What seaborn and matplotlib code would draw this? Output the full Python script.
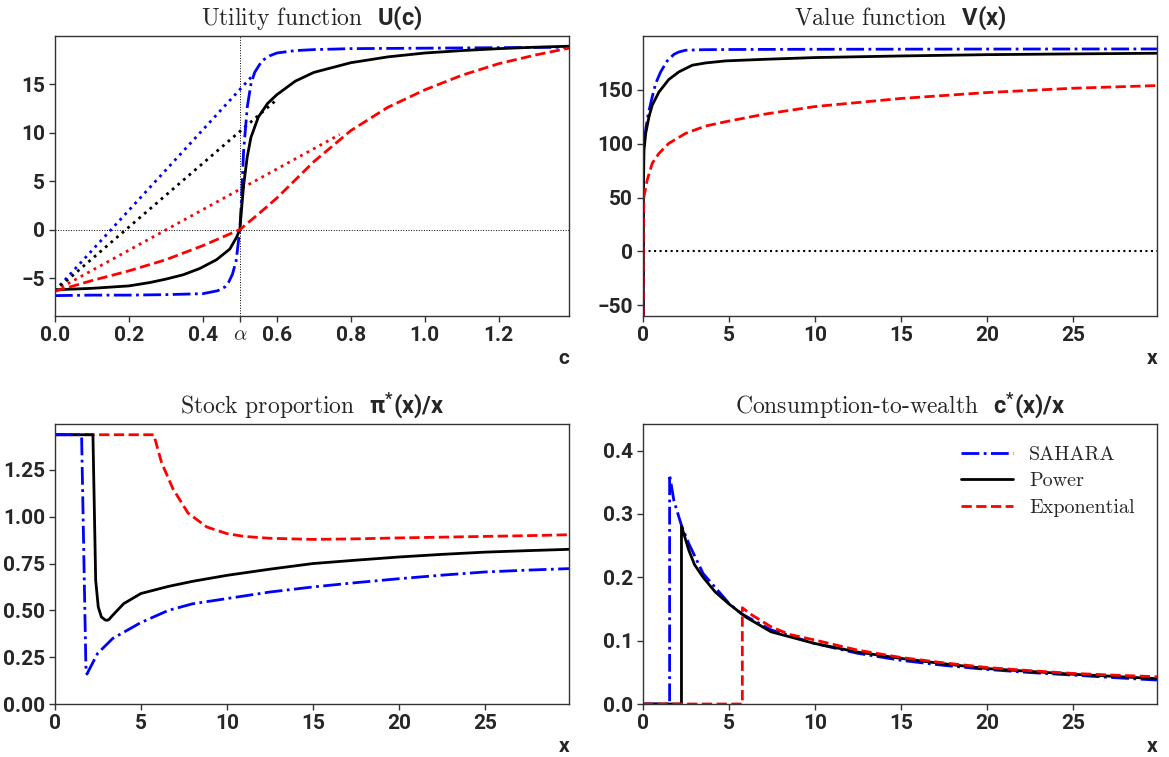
import matplotlib
matplotlib.use('Agg')
import numpy as np
import pandas as pd
import matplotlib.pyplot as plt
import seaborn as sns

# --- values ---

# Utility function U(c)
c_sahara = [0, 0.1, 0.2, 0.3, 0.4, 0.44, 0.46, 0.47, 0.48, 0.49, 0.5, 0.505, 0.51,
            0.52, 0.53, 0.54, 0.56, 0.58, 0.6, 0.65, 0.7, 0.8, 1.0, 1.2, 1.39]
u_sahara = [-6.8, -6.75, -6.75, -6.7, -6.6, -6.3, -5.9, -5.4, -4.6, -3.2, 0.0, 3.5, 8.0,
            12.6, 15.0, 16.2, 17.4, 17.9, 18.2, 18.45, 18.55, 18.65, 18.7, 18.75, 18.8]
c_power = [0, 0.1, 0.2, 0.257, 0.3, 0.347, 0.392, 0.437, 0.473, 0.491, 0.5, 0.51, 0.52,
           0.53, 0.55, 0.575, 0.6, 0.65, 0.7, 0.8, 0.9, 1.0, 1.1, 1.2, 1.3, 1.39]
u_power = [-6.2, -6.05, -5.8, -5.45, -5.1, -4.65, -4.0, -3.1, -2.0, -0.8, 0.0, 4.5, 7.5,
           9.5, 11.6, 13.0, 13.9, 15.3, 16.2, 17.2, 17.8, 18.2, 18.45, 18.65, 18.8, 18.9]
c_expo = [0, 0.1, 0.2, 0.3, 0.4, 0.5, 0.55, 0.6, 0.7, 0.8, 0.9, 1.0, 1.1, 1.2, 1.3, 1.39]
u_expo = [-6.35, -5.25, -4.25, -3.1, -1.65, 0.0, 1.6, 3.25, 7.0, 10.2, 12.6, 14.4,
          15.9, 17.1, 18.0, 18.7]
# tangent (dotted) lines: start and end points
tan_c = {'sahara': [0, 0.54], 'power': [0, 0.6], 'expo': [0, 0.77]}
tan_u = {'sahara': [-6.3, 16.1], 'power': [-6.3, 13.4], 'expo': [-6.3, 9.8]}
alpha = 0.5

# Value function V(x)
xv_sahara = [0.02, 0.03, 0.06, 0.31, 0.54, 0.74, 1.03, 1.41, 1.8, 2.09, 2.48, 3.5, 5,
             10, 20, 29.9]
v_sahara = [-60, 90, 103, 128, 143.5, 156, 166.7, 176.9, 183, 185.2, 186.8, 187.3, 187.5,
            187.7, 187.9, 188]
xv_power = [0.02, 0.03, 0.06, 0.16, 0.35, 0.54, 0.93, 1.5, 2.09, 2.87, 3.64, 4.8, 7.1,
            10, 15, 20, 25, 29.9]
v_power = [-60, 60, 94, 109.6, 125, 135.8, 148, 159.6, 166.7, 172.9, 175, 176.9, 178.4,
           180, 181.5, 182.7, 183.4, 184]
xv_expo = [0.01, 0.03, 0.06, 0.25, 0.54, 0.93, 1.5, 2.48, 3.64, 4.8, 7.1, 10, 15, 20,
           25, 29.9]
v_expo = [-60, 30, 51, 66.4, 81.9, 91, 100.3, 109.6, 116.4, 120.4, 127.5, 134.5, 142,
          147.5, 151.5, 154]

# Stock proportion pi*(x)/x
xp_sahara = [0, 1.55, 1.8, 1.86, 2.48, 3.36, 5, 6.6, 8, 10, 12.5, 15, 17.5, 20, 22.5,
             25, 27.5, 29.9]
p_sahara = [1.438, 1.438, 0.2, 0.16, 0.27, 0.35, 0.435, 0.5, 0.535, 0.563, 0.598, 0.625,
            0.648, 0.669, 0.688, 0.705, 0.715, 0.723]
xp_power = [0, 2.21, 2.37, 2.52, 2.7, 2.92, 3.03, 3.14, 3.36, 4.0, 5, 6.6, 8, 10, 12.5,
            15, 17.5, 20, 22.5, 25, 27.5, 29.9]
p_power = [1.438, 1.438, 0.66, 0.518, 0.465, 0.449, 0.447, 0.451, 0.474, 0.536, 0.59,
           0.628, 0.655, 0.687, 0.72, 0.75, 0.768, 0.785, 0.799, 0.811, 0.819, 0.826]
xp_expo = [0, 5.75, 6.2, 6.86, 7.74, 8.84, 10, 11, 12.5, 15, 17.5, 20, 22.5, 25, 27.5, 29.9]
p_expo = [1.438, 1.438, 1.29, 1.15, 1.02, 0.945, 0.91, 0.895, 0.885, 0.879, 0.882,
          0.887, 0.891, 0.895, 0.899, 0.904]

# Consumption-to-wealth c*(x)/x
xc_sahara = [0, 1.55, 1.55, 1.8, 2.24, 2.67, 3.5, 5, 5.7, 7.45, 10, 12.5, 15, 17.5, 20,
             22.5, 25, 27.5, 29.9]
k_sahara = [0, 0, 0.362, 0.321, 0.282, 0.253, 0.206, 0.159, 0.143, 0.117, 0.0955, 0.08,
            0.069, 0.061, 0.0546, 0.0497, 0.0457, 0.0415, 0.0378]
xc_power = [0, 2.24, 2.24, 2.67, 3.0, 3.5, 4.2, 5, 6, 7.45, 10, 12.5, 15, 17.5, 20, 22.5,
            25, 27.5, 29.9]
k_power = [0, 0, 0.281, 0.2425, 0.22, 0.2, 0.177, 0.158, 0.137, 0.114, 0.0955, 0.082,
           0.072, 0.0635, 0.056, 0.0515, 0.047, 0.0435, 0.040]
xc_expo = [0, 5.78, 5.78, 6.37, 7.45, 8.5, 10, 12.5, 15, 17.5, 20, 22.5, 25, 27.5, 29.9]
k_expo = [0, 0, 0.152, 0.14, 0.122, 0.11, 0.101, 0.085, 0.0735, 0.065, 0.0577, 0.0527,
          0.0483, 0.0455, 0.043]

series_names = ['SAHARA', 'Power', 'Exponential']

# --- style ---
sns.set_theme(style='ticks')
plt.rcParams['font.family'] = ['Roboto', 'DejaVu Sans']
plt.rcParams['font.weight'] = 'bold'
plt.rcParams['mathtext.fontset'] = 'custom'
plt.rcParams['mathtext.rm'] = 'cmr10'
plt.rcParams['mathtext.bf'] = 'Roboto:bold'
plt.rcParams['axes.edgecolor'] = '#333333'
plt.rcParams['axes.linewidth'] = 1.0
plt.rcParams['xtick.color'] = '#333333'
plt.rcParams['ytick.color'] = '#333333'
plt.rcParams['xtick.labelcolor'] = '#262626'
plt.rcParams['ytick.labelcolor'] = '#262626'

COLORS = {'SAHARA': 'blue', 'Power': 'black', 'Exponential': 'red'}
STYLES = {'SAHARA': '-.', 'Power': '-', 'Exponential': '--'}
TICK_SIZE = 15
TITLE_SIZE = 17


def draw(ax, x, y, name, lw=2.0, ls=None, label=None):
    sns.lineplot(x=x, y=y, ax=ax, color=COLORS[name], linestyle=ls or STYLES[name],
                 linewidth=lw, estimator=None, sort=False, label=label)


def style_axes(ax, title, xlabel):
    ax.set_title(title, fontsize=TITLE_SIZE, fontfamily='cmr10', fontweight='normal',
                 math_fontfamily='custom', pad=8, color='#262626')
    ax.set_xlabel(xlabel, loc='right', fontsize=TICK_SIZE, fontweight='bold',
                  labelpad=3)
    ax.set_ylabel('')
    ax.tick_params(labelsize=TICK_SIZE, length=4, width=1, pad=3)
    for sp in ax.spines.values():
        sp.set_visible(True)
    if ax.get_legend() is not None:
        ax.get_legend().remove()


fig, axes = plt.subplots(2, 2, figsize=(11.69, 7.57), dpi=100)
plt.subplots_adjust(left=0.047, right=0.9897, top=0.9524, bottom=0.070,
                    wspace=0.144, hspace=0.386)

# Panel 1: utility
ax = axes[0, 0]
ax.axvline(alpha, color='black', linestyle=':', linewidth=0.7)
ax.axhline(0, color='black', linestyle=':', linewidth=0.7)
for key, name in zip(['sahara', 'power', 'expo'], series_names):
    draw(ax, tan_c[key], tan_u[key], name, lw=2.0, ls=':')
draw(ax, c_sahara, u_sahara, 'SAHARA')
draw(ax, c_power, u_power, 'Power')
draw(ax, c_expo, u_expo, 'Exponential')
ax.set_xlim(0, 1.39)
ax.set_ylim(-8.9, 19.95)
ax.set_yticks([-5, 0, 5, 10, 15])
ax.set_xticks([0, 0.2, 0.4, alpha, 0.6, 0.8, 1.0, 1.2])
labels = ax.set_xticklabels(['0.0', '0.2', '0.4', r'$\alpha$', '0.6', '0.8', '1.0', '1.2'])
labels[3].set_math_fontfamily('cm')
labels[3].set_fontsize(19)
style_axes(ax, r'Utility function  $\mathbf{U(c)}$', 'c')

# Panel 2: value function
ax = axes[0, 1]
ax.axhline(0, color='black', linestyle=':', linewidth=1.5)
draw(ax, xv_sahara, v_sahara, 'SAHARA')
draw(ax, xv_power, v_power, 'Power')
draw(ax, xv_expo, v_expo, 'Exponential')
ax.set_xlim(0, 29.9)
ax.set_ylim(-60, 200)
ax.set_xticks([0, 5, 10, 15, 20, 25])
ax.set_yticks([-50, 0, 50, 100, 150])
style_axes(ax, r'Value function  $\mathbf{V(x)}$', 'x')

# Panel 3: stock proportion
ax = axes[1, 0]
draw(ax, xp_expo, p_expo, 'Exponential')
draw(ax, xp_power, p_power, 'Power')
draw(ax, xp_sahara, p_sahara, 'SAHARA')
ax.set_xlim(0, 29.9)
ax.set_ylim(0, 1.495)
ax.set_xticks([0, 5, 10, 15, 20, 25])
ax.set_yticks([0, 0.25, 0.5, 0.75, 1.0, 1.25])
ax.set_yticklabels(['0.00', '0.25', '0.50', '0.75', '1.00', '1.25'])
style_axes(ax, r'Stock proportion  $\mathbf{\pi^{*}(x)/x}$', 'x')

# Panel 4: consumption-to-wealth
ax = axes[1, 1]
draw(ax, xc_sahara, k_sahara, 'SAHARA', label='SAHARA')
draw(ax, xc_power, k_power, 'Power', label='Power')
draw(ax, xc_expo, k_expo, 'Exponential', label='Exponential')
ax.set_xlim(0, 29.9)
ax.set_ylim(0, 0.442)
ax.set_xticks([0, 5, 10, 15, 20, 25])
ax.set_yticks([0, 0.1, 0.2, 0.3, 0.4])
ax.set_yticklabels(['0.0', '0.1', '0.2', '0.3', '0.4'])
style_axes(ax, r'Consumption-to-wealth  $\mathbf{c^{*}(x)/x}$', 'x')
handles, lbls = ax.get_legend_handles_labels()
ax.legend(handles, lbls, loc='upper right', frameon=False, handlelength=2.6,
          prop={'family': 'cmr10', 'size': 14.5}, labelcolor='#262626',
          borderaxespad=0.7, labelspacing=0.4)

fig.savefig('out.png', dpi=100)
